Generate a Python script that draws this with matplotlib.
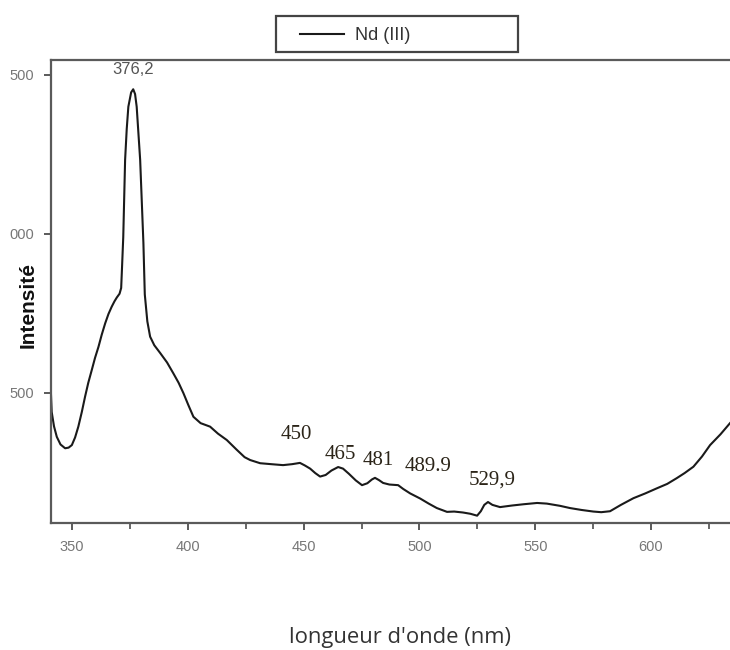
import matplotlib.pyplot as plt
from matplotlib.ticker import FixedLocator
from matplotlib.patches import Rectangle

# spectrum trace (nm, intensity)
wl = [340.9, 341.2, 342.2, 343.4, 345.0, 347.0, 348.5, 349.9, 351.3, 352.7,
      354.2, 355.6, 357.0, 358.5, 359.9, 361.4, 362.8, 364.3, 365.7, 367.1,
      368.3, 369.3, 370.5, 371.2, 371.6, 372.1, 372.9, 373.6, 374.3, 375.5,
      376.4, 377.2, 377.9, 379.4, 380.8, 381.4, 382.5, 383.7, 385.5, 388.0,
      391.0, 393.7, 396.0, 398.1, 400.2, 402.4, 405.5, 409.6, 413.0, 416.8,
      421.0, 424.5, 426.9, 431.2, 436.0, 441.1, 445.0, 448.4, 450.5, 452.8,
      455.0, 457.1, 459.5, 462.0, 464.9, 467.0, 469.5, 472.5, 475.2, 477.5,
      479.5, 480.8, 482.5, 484.3, 487.0, 490.8, 493.0, 496.0, 500.3, 504.0,
      507.5, 511.9, 515.0, 518.8, 522.0, 524.9, 526.5, 528.0, 529.6, 531.5,
      534.8, 540.0, 545.0, 550.8, 555.0, 560.7, 565.0, 570.0, 575.1, 578.5,
      582.3, 587.0, 592.4, 597.5, 602.5, 607.0, 611.1, 614.5, 618.3, 622.0,
      625.5, 630.0, 634.1]
intens = [1494, 1440, 1395, 1362, 1338, 1326, 1328, 1336, 1360, 1394,
          1440, 1488, 1532, 1572, 1610, 1645, 1683, 1719, 1748, 1771,
          1788, 1800, 1812, 1830, 1900, 1990, 2233, 2330, 2400, 2445,
          2455, 2440, 2400, 2233, 1972, 1810, 1725, 1677, 1650, 1626,
          1596, 1562, 1532, 1499, 1462, 1425, 1405, 1394, 1372, 1352,
          1322, 1298, 1289, 1279, 1276, 1273, 1276, 1280, 1272, 1262,
          1248, 1237, 1242, 1256, 1267, 1262, 1246, 1225, 1210, 1216,
          1228, 1233, 1226, 1217, 1212, 1210, 1198, 1184, 1168, 1152,
          1138, 1126, 1127, 1124, 1120, 1114, 1128, 1148, 1157, 1148,
          1141, 1146, 1150, 1154, 1152, 1145, 1138, 1132, 1127, 1125,
          1128, 1148, 1169, 1184, 1200, 1214, 1232, 1248, 1268, 1300,
          1336, 1370, 1405]

peak_labels = ['376,2', '450', '465', '481', '489.9', '529,9']
peak_x = [376.5, 446.7, 465.7, 482.1, 503.7, 531.3]
peak_y = [2516, 1368, 1305, 1289, 1270, 1226]

yticks = [1500, 2000, 2500]
ytick_labels = ['500', '000', '500']
xticks = [350, 400, 450, 500, 550, 600]
xminor = [375, 425, 475, 525, 575, 625]

fig = plt.figure(figsize=(7.3, 6.5), dpi=100)
ax = fig.add_axes([51/730, 1-523/650, 679/730, 463/650])

ax.plot(wl, intens, color='#1a1a1a', lw=1.5, label='Nd (III)')

ax.set_xlim(340.9, 634.1)
ax.set_ylim(1091, 2547)

ax.set_xticks(xticks)
ax.xaxis.set_minor_locator(FixedLocator(xminor))
ax.set_yticks(yticks)
ax.set_yticklabels(ytick_labels)

for s in ['left', 'bottom', 'top']:
    ax.spines[s].set_color('#5a5a5a')
    ax.spines[s].set_linewidth(1.6)
ax.spines['right'].set_visible(False)

ax.tick_params(axis='both', which='major', direction='out', length=5, width=1.4,
               color='#5a5a5a', labelsize=10.5, labelcolor='#777777')
ax.tick_params(axis='x', which='minor', direction='out', length=4, width=1.3,
               color='#5a5a5a')
ax.tick_params(axis='x', which='major', pad=7)
ax.tick_params(axis='y', which='major', pad=7)
for lab in ax.get_xticklabels() + ax.get_yticklabels():
    lab.set_family('Liberation Sans')

ax.set_ylabel('Intensité', fontsize=15, fontweight='bold', family='Liberation Sans',
              color='#111111')
ax.yaxis.set_label_coords(-13/679, (523-305)/463)

# peak annotations
ax.text(peak_x[0], peak_y[0], peak_labels[0], ha='center', va='center',
        fontsize=12, color='#555555', family='Liberation Sans')
for lab, x, y in zip(peak_labels[1:], peak_x[1:], peak_y[1:]):
    ax.text(x, y, lab, ha='center', va='center', fontsize=15,
            color='#2b2418', family='Liberation Serif')

# legend: frame box drawn separately so the entry can sit inset like the original
fig.patches.append(Rectangle((276/730, 1-52/650), 242/730, 36/650,
                             transform=fig.transFigure, fill=False,
                             edgecolor='#444444', linewidth=1.6))
leg = ax.legend(loc='center left', bbox_to_anchor=(300/730, 1-36/650),
                bbox_transform=fig.transFigure, fontsize=13,
                handlelength=2.45, handletextpad=0.6, borderpad=0,
                borderaxespad=0, frameon=False)
for t in leg.get_texts():
    t.set_family('Liberation Sans')
    t.set_color('#333333')

fig.text(400/730, 1-638/650, "longueur d'onde (nm)", ha='center', va='center',
         fontsize=15.8, color='#333333', family='Open Sans')

fig.savefig('out.png', dpi=100)
